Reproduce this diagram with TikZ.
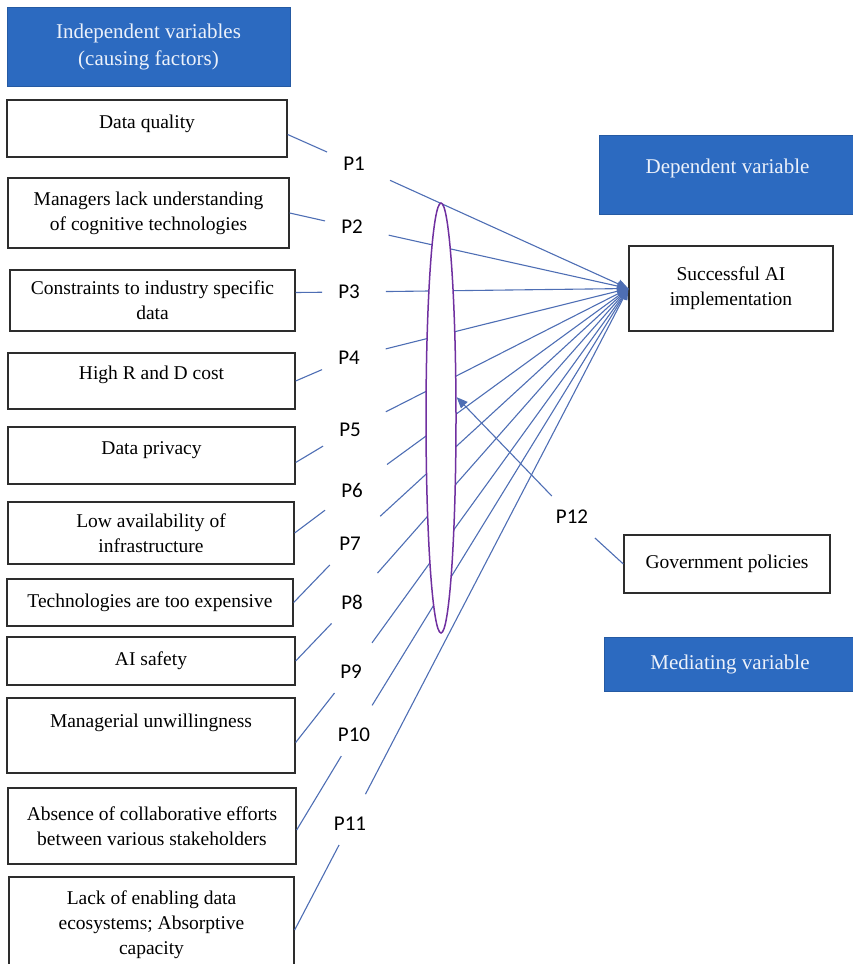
\documentclass[tikz,border=0pt]{standalone}
\usepackage{fontspec}
\setmainfont{Liberation Serif}
\newfontfamily\boxfont{Liberation Serif}
\newfontfamily\plabfont{Carlito}
\usetikzlibrary{shapes.geometric,arrows.meta,positioning}
\definecolor{headblue}{RGB}{44,106,192}
\definecolor{headtext}{RGB}{236,241,250}
\definecolor{linkcol}{RGB}{78,110,180}
\definecolor{modcol}{RGB}{112,48,160}
\definecolor{boxline}{RGB}{45,45,45}

\begin{document}
\begin{tikzpicture}[x=1pt, y=-1pt,
    >={Triangle[length=11pt, width=9pt]},
    head/.style={rectangle, fill=headblue, draw=headblue!85!black, line width=1pt, align=center, text=headtext, font=\boxfont\fontsize{21}{27}\selectfont, inner sep=0pt},
    factor/.style={rectangle, draw=boxline, line width=1.3pt, fill=white, align=center, font=\boxfont\fontsize{19.5}{25}\selectfont, inner sep=0pt},
    plab/.style={font=\plabfont\fontsize{21}{21}\selectfont, inner xsep=16pt, inner ysep=14pt},
    link/.style={draw=linkcol, line width=1.1pt},
    arrow/.style={link, ->, shorten <=10pt},
]
\useasboundingbox (0,0) rectangle (853,964);

% headers
\node[head, minimum width=283pt, minimum height=79pt] (indep) at (148.5,46.5) {Independent variables\\(causing factors)};
\node[head, minimum width=257pt, text height=38pt, text depth=41pt] (dep) at (727.5,174.5) {Dependent variable};
\node[head, minimum width=252pt, minimum height=54pt] (med) at (730,664) {Mediating variable};

% independent variables
\node[factor, minimum width=280pt, text height=28pt, text depth=29pt] (dq) at (147,128.5) {Data quality};
\node[factor, minimum width=281pt, minimum height=70pt] (mgr) at (148.5,213) {Managers lack understanding\\of cognitive technologies};
\node[factor, minimum width=285pt, minimum height=61pt] (cons) at (152.5,300.5) {Constraints to industry specific\\data};
\node[factor, minimum width=287pt, text height=26pt, text depth=30pt] (rnd) at (151.5,381) {High R and D cost};
\node[factor, minimum width=287pt, text height=27pt, text depth=30pt] (priv) at (151.5,455.5) {Data privacy};
\node[factor, minimum width=286pt, minimum height=62pt] (infra) at (151,533) {Low availability of\\infrastructure};
\node[factor, minimum width=286pt, minimum height=47pt] (expen) at (150,602.5) {Technologies are too expensive};
\node[factor, minimum width=288pt, minimum height=48pt] (safety) at (151,661) {AI safety};
\node[factor, minimum width=288pt, text height=29pt, text depth=46pt] (unwill) at (151,735.5) {Managerial unwillingness};
\node[factor, minimum width=288pt, minimum height=76pt] (collab) at (152,826) {Absence of collaborative efforts\\between various stakeholders};
\node[factor, minimum width=285pt, minimum height=96pt] (enab) at (151.5,925) {Lack of enabling data\\ecosystems; Absorptive\\capacity};

% dependent and mediating
\node[factor, minimum width=204pt, minimum height=85pt] (succ) at (731,288.5) {Successful AI\\implementation};
\node[factor, minimum width=206pt, minimum height=58pt] (gov) at (727,564) {Government policies};

% propositions
\node[plab] (p1) at (354,164) {P1};
\node[plab] (p2) at (352,227) {P2};
\node[plab] (p3) at (349,292) {P3};
\node[plab] (p4) at (349,358) {P4};
\node[plab] (p5) at (350,430) {P5};
\node[plab] (p6) at (352,490) {P6};
\node[plab] (p7) at (350,544) {P7};
\node[plab] (p8) at (352,602) {P8};
\node[plab] (p9) at (351,672) {P9};
\node[plab] (p10) at (354,735) {P10};
\node[plab] (p11) at (350,824) {P11};
\node[plab] (p12) at (572,517) {P12};

\draw[link] ([yshift=-6pt]dq.east) -- (p1);
\draw[link] (mgr.east) -- (p2);
\draw[link] ([yshift=8pt]cons.east) -- (p3);
\draw[link] (rnd.east) -- (p4);
\draw[link] ([yshift=-7pt]priv.east) -- (p5);
\draw[link] (infra.east) -- (p6);
\draw[link] (expen.east) -- (p7);
\draw[link] (safety.east) -- (p8);
\draw[link] ([yshift=-7pt]unwill.east) -- (p9);
\draw[link] ([yshift=-4pt]collab.east) -- (p10);
\draw[link] ([yshift=-5pt]enab.east) -- (p11);

\foreach \i in {1,...,11}
  \draw[arrow] (p\i) -- (succ.west);

% moderating ellipse over the links
\node[ellipse, draw=modcol, line width=1.5pt, fill=white, minimum width=30pt, minimum height=430pt, inner sep=0pt] (moder) at (441,418) {};

\draw[link] (gov.west) -- (p12);
\draw[link, ->] (p12) -- (moder.53);
\end{tikzpicture}
\end{document}
